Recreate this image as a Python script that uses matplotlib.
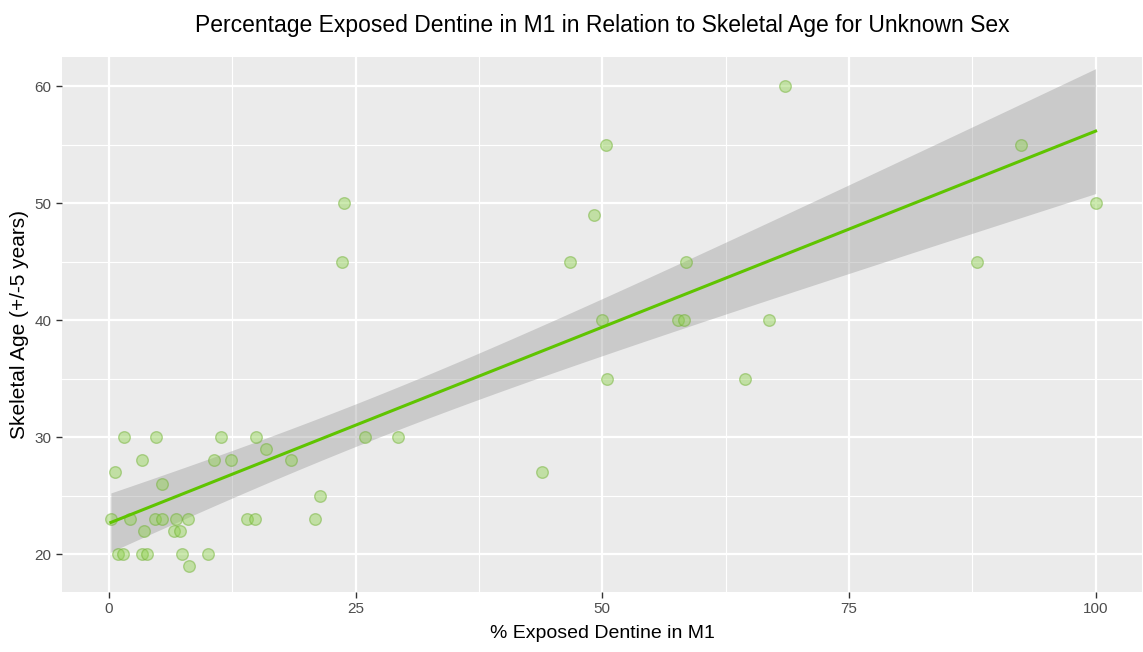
import numpy as np
import matplotlib
matplotlib.use("Agg")
import matplotlib.pyplot as plt
from matplotlib.ticker import MultipleLocator

# Data
dentine = [0.2, 0.6, 1.5, 0.9, 1.4, 2.1, 3.4, 3.6, 3.4, 3.9, 4.8, 5.4, 4.7, 5.4,
           6.6, 7.2, 6.8, 7.4, 8.0, 8.1, 10.0, 10.7, 11.4, 12.4, 14.0, 14.8,
           14.9, 15.9, 18.5, 20.9, 21.4, 23.8, 23.6, 26.0, 29.3, 43.9, 46.7,
           49.2, 50.0, 50.4, 50.5, 57.7, 58.3, 58.5, 64.5, 66.9, 68.5, 88.0,
           92.4, 100.0]
age = [23, 27, 30, 20, 20, 23, 28, 22, 20, 20, 30, 26, 23, 23,
       22, 22, 23, 20, 23, 19, 20, 28, 30, 28, 23, 23,
       30, 29, 28, 23, 25, 50, 45, 30, 30, 27, 45,
       49, 40, 55, 35, 40, 40, 45, 35, 40, 60, 45,
       55, 50]

x_ticks = [0, 25, 50, 75, 100]
y_ticks = [20, 30, 40, 50, 60]

title = "Percentage Exposed Dentine in M1 in Relation to Skeletal Age for Unknown Sex"
xlabel = "% Exposed Dentine in M1"
ylabel = "Skeletal Age (+/-5 years)"

x = np.array(dentine, float)
y = np.array(age, float)

# linear fit with 95% confidence band (like geom_smooth(method='lm'))
n = len(x)
b1, b0 = np.polyfit(x, y, 1)
resid = y - (b0 + b1 * x)
s = np.sqrt(np.sum(resid ** 2) / (n - 2))
xg = np.linspace(x.min(), x.max(), 80)
yg = b0 + b1 * xg
se = s * np.sqrt(1 / n + (xg - x.mean()) ** 2 / np.sum((x - x.mean()) ** 2))
tcrit = 2.0106  # t(0.975, 48)
lo, hi = yg - tcrit * se, yg + tcrit * se

fam = ["Liberation Sans", "DejaVu Sans"]

fig = plt.figure(figsize=(11.43, 6.52), dpi=100)
ax = fig.add_axes([0.0542, 0.092, 0.9449, 0.8206])
ax.set_facecolor("#EBEBEB")
ax.set_xlim(-4.76, 104.7)
ax.set_ylim(16.75, 62.5)
ax.xaxis.set_minor_locator(MultipleLocator(12.5))
ax.yaxis.set_minor_locator(MultipleLocator(5))
ax.set_xticks(x_ticks)
ax.set_yticks(y_ticks)
ax.grid(which="major", color="white", linewidth=1.6)
ax.grid(which="minor", color="white", linewidth=0.8)
ax.set_axisbelow(True)
for sp in ax.spines.values():
    sp.set_visible(False)
ax.tick_params(which="major", length=4, color="#333333", width=1,
               labelcolor="#4D4D4D", labelsize=11)
ax.tick_params(which="minor", length=0)
for lab in ax.get_xticklabels() + ax.get_yticklabels():
    lab.set_family(fam)

ax.scatter(x, y, s=70, color="#8FD14F", alpha=0.45, edgecolors="#6BAF2A",
           linewidths=1.0, zorder=3)
ax.fill_between(xg, lo, hi, color="#999999", alpha=0.4, linewidth=0, zorder=2)
ax.plot(xg, yg, color="#5FC400", linewidth=2.2, zorder=4)

ax.set_title(title, fontsize=16.5, color="black", pad=18, family=fam)
ax.set_xlabel(xlabel, fontsize=14, labelpad=6, family=fam)
ax.set_ylabel(ylabel, fontsize=15, labelpad=4, family=fam)

fig.savefig("out.png", dpi=100)
